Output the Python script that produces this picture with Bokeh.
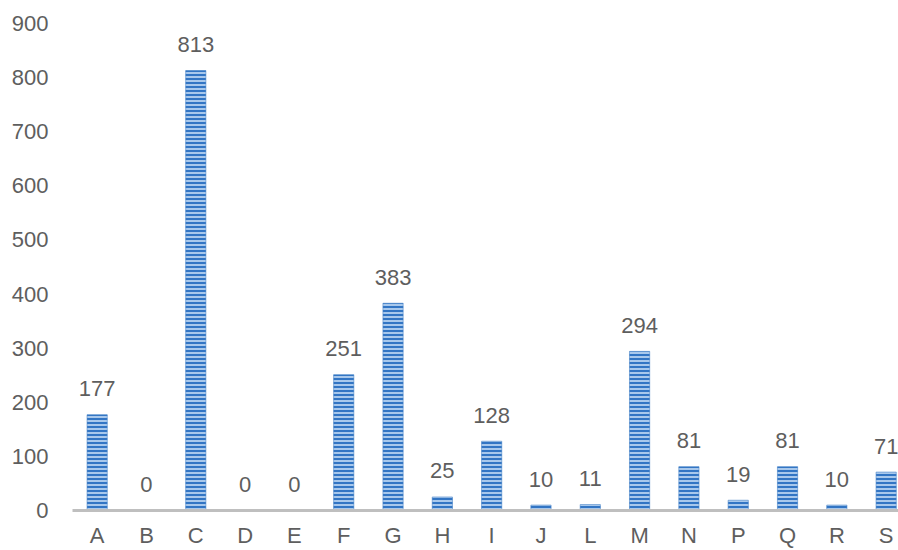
from bokeh.plotting import figure
from bokeh.models import ColumnDataSource, Range1d, FixedTicker
from bokeh.core.properties import value
from bokeh.embed import file_html
from bokeh.resources import INLINE

categories = ["A", "B", "C", "D", "E", "F", "G", "H", "I", "J", "L", "M", "N", "P", "Q", "R", "S"]
values = [177, 0, 813, 0, 0, 251, 383, 25, 128, 10, 11, 294, 81, 19, 81, 10, 71]
y_ticks = [0, 100, 200, 300, 400, 500, 600, 700, 800, 900]

FONT = "Liberation Sans"
TXT = "#5e5e5e"

xs = list(range(len(categories)))
src = ColumnDataSource(dict(x=xs, top=values, label=[str(v) for v in values]))

p = figure(width=898, height=550, output_backend="svg", toolbar_location=None,
           x_range=Range1d(-0.5, 16.25), y_range=Range1d(0, 900),
           min_border_left=72, min_border_right=0, min_border_top=23, min_border_bottom=40)
p.outline_line_color = None
p.xgrid.grid_line_color = None
p.ygrid.grid_line_color = None
p.background_fill_color = "white"
p.border_fill_color = "white"

p.vbar(x="x", top="top", width=0.41, bottom=0, source=src,
       fill_color="#a8c8ec", line_color="#4a84c8", line_width=0.6,
       hatch_pattern="horizontal_line", hatch_color="#3275c4",
       hatch_scale=4, hatch_weight=2)

p.text(x="x", y="top", text="label", source=src,
       text_align="center", text_baseline="alphabetic", y_offset=-26,
       text_font=value(FONT), text_font_size="22px", text_color=TXT)

# y axis
p.yaxis.ticker = FixedTicker(ticks=y_ticks)
p.yaxis.axis_line_color = None
p.yaxis.major_tick_line_color = None
p.yaxis.minor_tick_line_color = None
p.yaxis.major_tick_out = 0
p.yaxis.major_tick_in = 0
p.yaxis.major_label_standoff = 24
p.yaxis.major_label_text_font = FONT
p.yaxis.major_label_text_font_size = "22px"
p.yaxis.major_label_text_color = TXT

# x axis
p.xaxis.ticker = FixedTicker(ticks=xs)
p.xaxis.major_label_overrides = {i: c for i, c in enumerate(categories)}
p.xaxis.axis_line_color = "#bfbfbf"
p.xaxis.axis_line_width = 3
p.xaxis.major_tick_line_color = None
p.xaxis.minor_tick_line_color = None
p.xaxis.major_tick_out = 0
p.xaxis.major_tick_in = 0
p.xaxis.major_label_standoff = 12
p.xaxis.major_label_text_font = FONT
p.xaxis.major_label_text_font_size = "22px"
p.xaxis.major_label_text_color = TXT

open("out.html", "w").write(file_html(p, INLINE))
